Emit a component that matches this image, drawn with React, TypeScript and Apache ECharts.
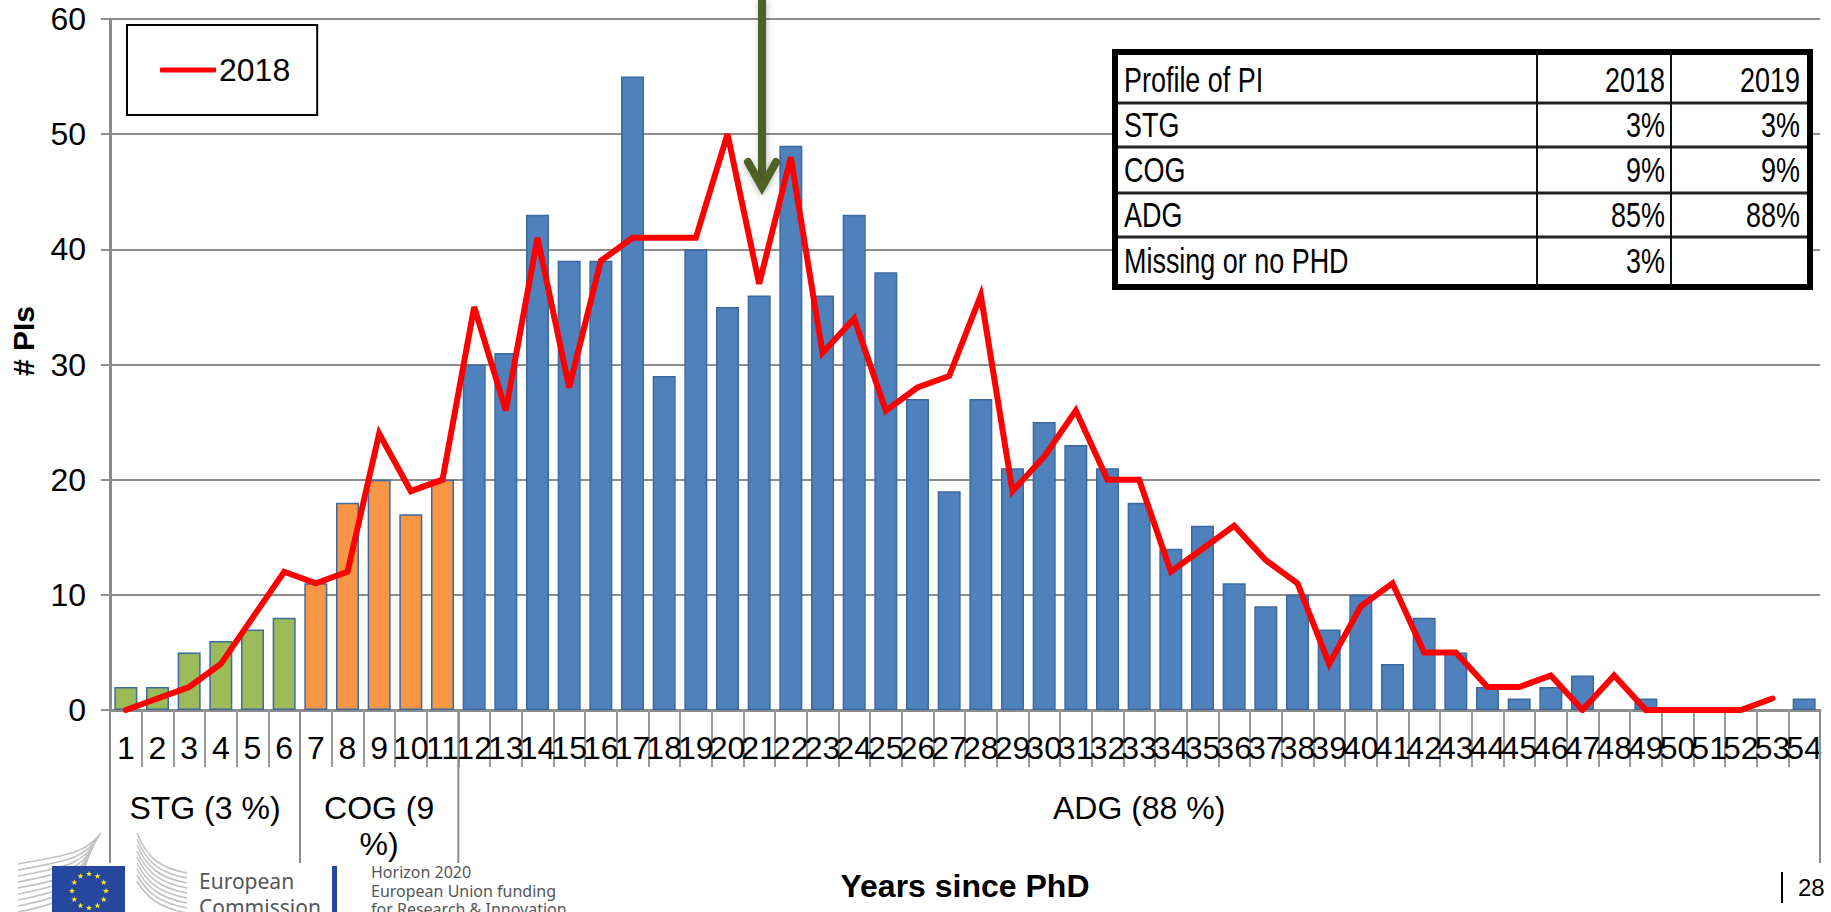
import React, { useEffect, useRef } from "react";
import * as echarts from "echarts";

const years = Array.from({ length: 54 }, (_, i) => String(i + 1));
const pis2019 = [2,2,5,6,7,8,11,18,20,17,20,30,31,43,39,39,55,29,40,35,36,49,36,43,38,27,19,27,21,25,23,21,18,14,16,11,9,10,7,10,4,8,5,2,1,2,3,0,1,0,0,0,0,1];
const pis2018 = [0,1,2,4,8,12,11,12,24,19,20,35,26,41,28,39,41,41,41,50,37,48,31,34,26,28,29,36,19,22,26,20,20,12,14,16,13,11,4,9,11,5,5,2,2,3,0,3,0,0,0,0,1,null];
const groupNames = ["STG (3 %)", "COG (9\n%)", "ADG (88 %)"];
const groupEnds = [6, 11, 54];
const groupColors = ["#9BBB59", "#F79646", "#4F81BD"];
const tableRows = [
  ["Profile of PI", "2018", "2019"],
  ["STG", "3%", "3%"],
  ["COG", "9%", "9%"],
  ["ADG", "85%", "88%"],
  ["Missing or no PHD", "3%", ""],
];

const W = 1831, H = 912;
const L = 110, R = 1820, T = 19, B = 710;
const step = (R - L) / 54;
const FONT = "Liberation Sans";

function buildGraphic() {
  const g: any[] = [];
  const line = (x1: number, y1: number, x2: number, y2: number, stroke: string, lineWidth: number, z = 5) =>
    g.push({ type: "line", z, shape: { x1, y1, x2, y2 }, style: { stroke, lineWidth } });
  const text = (x: number, y: number, t: string, font: string, fill: string, align = "left", z = 6, extra: any = {}) =>
    g.push({ type: "text", z, x, y, ...extra, style: { text: t, font, fill, textAlign: align, textVerticalAlign: "middle" } });

  // group separators and labels
  let prev = 0;
  line(L, B, L, 863, "#8c8c8c", 2);
  groupEnds.forEach((end, i) => {
    const xEnd = L + end * step;
    line(xEnd, B, xEnd, 863, "#8c8c8c", 2);
    const cx = (L + prev * step + xEnd) / 2;
    groupNames[i].split("\n").forEach((t, k) => text(cx, 808 + k * 36, t, `32px '${FONT}'`, "#000", "center"));
    prev = end;
  });

  // table
  const tx = 1115, ty = 52, tw = 695, th = 235;
  g.push({ type: "rect", z: 20, shape: { x: tx, y: ty, width: tw, height: th }, style: { fill: "#fff", stroke: "#000", lineWidth: 6 } });
  [103, 147, 193, 237].forEach((y) => line(tx + 3, y, tx + tw - 3, y, "#222", 3, 21));
  [1537, 1671].forEach((x) => line(x, ty, x, ty + th, "#111", 2, 21));
  const rowCy = [80, 125, 170, 215, 261];
  const cellFont = `35px '${FONT}'`;
  const squeeze = { scaleX: 0.77 };
  tableRows.forEach((row, r) => {
    text(1124, rowCy[r], row[0], cellFont, "#000", "left", 22, squeeze);
    text(1665, rowCy[r], row[1], cellFont, "#000", "right", 22, squeeze);
    if (row[2]) text(1800, rowCy[r], row[2], cellFont, "#000", "right", 22, squeeze);
  });

  // arrow
  g.push({ type: "rect", z: 25, shape: { x: 758, y: 0, width: 8, height: 186 }, style: { fill: "#4F6228", shadowBlur: 6, shadowColor: "rgba(0,0,0,0.25)", shadowOffsetX: 1 } });
  g.push({ type: "polyline", z: 25, shape: { points: [[748, 162], [762, 187], [776, 162]] }, style: { stroke: "#4F6228", lineWidth: 8, fill: "none", lineCap: "round", lineJoin: "miter", shadowBlur: 6, shadowColor: "rgba(0,0,0,0.25)", shadowOffsetY: 2 } });

  // axis titles
  text(965, 886, "Years since PhD", `bold 32px '${FONT}'`, "#000", "center");
  text(23, 341, "# PIs", `bold 30px '${FONT}'`, "#000", "center", 6, { rotation: Math.PI / 2 });
  text(1798, 887, "28", `24px '${FONT}'`, "#000", "left");
  line(1782, 872, 1782, 903, "#000", 2);

  // EC logo: stripes
  for (let i = 0; i < 9; i++) {
    g.push({ type: "bezierCurve", z: 3, shape: { x1: 18, y1: 864 + i * 6, cpx1: 60, cpy1: 856 + i * 6, cpx2: 85, cpy2: 855 + i * 5, x2: 101 - i * 2, y2: 833 + i * 3 }, style: { stroke: "#c2c2c2", lineWidth: 1.6, fill: "none" } });
    g.push({ type: "bezierCurve", z: 3, shape: { x1: 137, y1: 833 + i * 6, cpx1: 147, cpy1: 858 + i * 5, cpx2: 160, cpy2: 868 + i * 5, x2: 187, y2: 873 + i * 5 }, style: { stroke: "#c2c2c2", lineWidth: 1.6, fill: "none" } });
  }
  g.push({ type: "rect", z: 4, shape: { x: 52, y: 866, width: 73, height: 46 }, style: { fill: "#26479E" } });
  for (let s = 0; s < 12; s++) {
    const a = (s * Math.PI) / 6;
    const cx = 89 + 17 * Math.sin(a), cy = 891 - 17 * Math.cos(a);
    const pts: number[][] = [];
    for (let k = 0; k < 10; k++) {
      const r = k % 2 ? 1.3 : 3.2;
      const b = (k * Math.PI) / 5;
      pts.push([cx + r * Math.sin(b), cy - r * Math.cos(b)]);
    }
    g.push({ type: "polygon", z: 5, shape: { points: pts }, style: { fill: "#FFE81A" } });
  }
  text(199, 881, "European", "21px 'Noto Sans'", "#55565a");
  text(199, 907, "Commission", "21px 'Noto Sans'", "#55565a");
  g.push({ type: "rect", z: 4, shape: { x: 332, y: 866, width: 5, height: 46 }, style: { fill: "#26479E" } });
  text(371, 872, "Horizon 2020", "16px 'Noto Sans'", "#55565a");
  text(371, 891, "European Union funding", "16px 'Noto Sans'", "#55565a");
  text(371, 909, "for Research & Innovation", "16px 'Noto Sans'", "#55565a");
  return g;
}

export default function App() {
  const ref = useRef<HTMLDivElement>(null);
  useEffect(() => {
    const chart = echarts.init(ref.current!, null, { renderer: "svg", width: W, height: H });
    const colorFor = (i: number) => groupColors[groupEnds.findIndex((e) => i < e)];
    chart.setOption({
      animation: false,
      backgroundColor: "#fff",
      grid: { left: L, right: W - R, top: T, bottom: H - B, containLabel: false },
      legend: {
        show: true,
        data: [{ name: "2018", icon: "roundRect", itemStyle: { color: "#FF0000" } }],
        left: 127,
        top: 25,
        orient: "horizontal",
        padding: [29, 27, 29, 33],
        itemWidth: 56,
        itemHeight: 5,
        itemGap: 0,
        backgroundColor: "#fff",
        borderColor: "#000",
        borderWidth: 2,
        textStyle: { fontFamily: FONT, fontSize: 32, color: "#000", padding: [0, 0, 0, -2] },
        z: 10,
      },
      xAxis: {
        type: "category",
        data: years,
        axisLine: { lineStyle: { color: "#8c8c8c", width: 3 } },
        axisTick: { show: true, alignWithLabel: false, length: 57, lineStyle: { color: "#9a9a9a", width: 2 } },
        axisLabel: { interval: 0, fontFamily: FONT, fontSize: 32, color: "#000", margin: 22, hideOverlap: false },
      },
      yAxis: {
        type: "value",
        min: 0,
        max: 60,
        interval: 10,
        axisLine: { show: true, lineStyle: { color: "#8c8c8c", width: 3 } },
        axisTick: { show: true, length: 9, lineStyle: { color: "#8c8c8c", width: 2 } },
        axisLabel: { fontFamily: FONT, fontSize: 32, color: "#000", margin: 24 },
        splitLine: { show: true, lineStyle: { color: "#8c8c8c", width: 2 } },
      },
      series: [
        {
          name: "2019",
          type: "bar",
          barWidth: 23,
          data: pis2019.map((v, i) => ({ value: v, itemStyle: { color: colorFor(i), borderColor: "#3d6a9e", borderWidth: v ? 1.5 : 0 } })),
        },
        {
          name: "2018",
          type: "line",
          data: pis2018,
          symbol: "none",
          connectNulls: false,
          itemStyle: { color: "#FF0000" },
          lineStyle: { color: "#FF0000", width: 6, cap: "round", join: "miter" },
          z: 5,
        },
      ],
      graphic: buildGraphic(),
    });
    return () => chart.dispose();
  }, []);
  return <div ref={ref} style={{ position: "fixed", left: 0, top: 0, width: W, height: H, overflow: "hidden", background: "#fff" }} />;
}
